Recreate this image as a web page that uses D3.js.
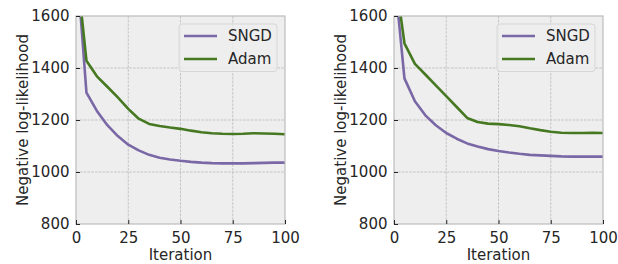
<!DOCTYPE html>
<html><head><meta charset="utf-8">
<script src="https://cdn.jsdelivr.net/npm/d3@7"></script>
<style>
body{margin:0;background:#fff;}
svg{display:block;}
text{font-family:"DejaVu Sans",sans-serif;fill:#262626;}
</style></head>
<body><svg id="c" width="618" height="264"></svg>
<script>
const iterations = [0,5,10,15,20,25,30,35,40,45,50,55,60,65,70,75,80,85,90,95,100];
const leftSNGD = [1840,1305,1235,1180,1138,1105,1083,1066,1055,1048,1043,1039,1036,1034,1033,1033,1033,1034,1035,1036,1036];
const leftAdam = [1810,1428,1368,1328,1287,1243,1205,1185,1177,1171,1166,1159,1153,1149,1147,1146,1147,1149,1148,1147,1145];
const rightSNGD = [1775,1360,1272,1218,1180,1150,1128,1110,1098,1088,1081,1075,1070,1066,1064,1062,1060,1059,1059,1059,1059];
const rightAdam = [1790,1495,1416,1375,1333,1292,1250,1208,1192,1186,1184,1181,1176,1168,1161,1155,1151,1150,1150,1151,1150];
const xTicks = [0,25,50,75,100];
const yTicks = [800,1000,1200,1400,1600];
const seriesNames = ["SNGD","Adam"];
const colors = ["#7A68A6","#467821"];

(function(){
const FS = "15px";
const svg = d3.select("#c");
const panels = [
  {x0:76, x1:285, data:[leftSNGD,leftAdam], ylabX:27.5},
  {x0:394, x1:603, data:[rightSNGD,rightAdam], ylabX:345.5}
];
const pTop=16, pBottom=224;
panels.forEach((p,pi)=>{
  const x = d3.scaleLinear().domain([0,100]).range([p.x0,p.x1]);
  const y = d3.scaleLinear().domain([800,1600]).range([pBottom,pTop]);
  const g = svg.append("g");
  g.append("rect").attr("x",p.x0).attr("y",pTop).attr("width",p.x1-p.x0).attr("height",pBottom-pTop).attr("fill","#eeeeee");
  const clipId="clip"+pi;
  svg.append("clipPath").attr("id",clipId).append("rect").attr("x",p.x0).attr("y",pTop).attr("width",p.x1-p.x0).attr("height",pBottom-pTop);
  g.selectAll(".gx").data(xTicks.slice(1,-1)).join("line")
    .attr("x1",d=>x(d)).attr("x2",d=>x(d)).attr("y1",pTop).attr("y2",pBottom)
    .attr("stroke","#b2b2b2").attr("stroke-width",0.7).attr("stroke-dasharray","2.6,1.2");
  g.selectAll(".gy").data(yTicks.slice(1,-1)).join("line")
    .attr("y1",d=>y(d)).attr("y2",d=>y(d)).attr("x1",p.x0).attr("x2",p.x1)
    .attr("stroke","#b2b2b2").attr("stroke-width",0.7).attr("stroke-dasharray","2.6,1.2");
  const line = d3.line().x((d,i)=>x(iterations[i])).y(d=>y(d));
  p.data.forEach((arr,si)=>{
    g.append("path").datum(arr).attr("d",line).attr("fill","none")
      .attr("stroke",colors[si]).attr("stroke-width",2.6).attr("stroke-linejoin","round")
      .attr("clip-path",`url(#${clipId})`);
  });
  g.append("rect").attr("x",p.x0).attr("y",pTop).attr("width",p.x1-p.x0).attr("height",pBottom-pTop)
    .attr("fill","none").attr("stroke","#bcbcbc").attr("stroke-width",1.2);
  const xa = g.append("g").attr("transform",`translate(0,${pBottom})`)
    .call(d3.axisBottom(x).tickValues(xTicks).tickFormat(d3.format("d")).tickSizeInner(-4).tickSizeOuter(0).tickPadding(8.5));
  const ya = g.append("g").attr("transform",`translate(${p.x0},0)`)
    .call(d3.axisLeft(y).tickValues(yTicks).tickFormat(d3.format("d")).tickSizeInner(-4).tickSizeOuter(0).tickPadding(6.5));
  [xa,ya].forEach(a=>{
    a.select(".domain").remove();
    a.selectAll("line").attr("stroke","#262626").attr("stroke-width",1);
    a.selectAll("text").attr("font-size",FS).attr("font-family","DejaVu Sans").attr("fill","#262626");
  });
  g.append("text").attr("x",(p.x0+p.x1)/2).attr("y",260).attr("text-anchor","middle")
    .attr("font-size",FS).text("Iteration");
  g.append("text").attr("transform",`translate(${p.ylabX},${(pTop+pBottom)/2}) rotate(-90)`)
    .attr("text-anchor","middle").attr("font-size",FS).text("Negative log-likelihood");
  const lx = p.x1-106, ly=24;
  g.append("rect").attr("x",lx).attr("y",ly).attr("width",98).attr("height",47.5).attr("rx",3)
    .attr("fill","#eeeeee").attr("fill-opacity",0.8).attr("stroke","#d6d6d6").attr("stroke-width",1);
  seriesNames.forEach((n,si)=>{
    const yy = ly+12+si*23;
    g.append("line").attr("x1",lx+5).attr("x2",lx+38).attr("y1",yy).attr("y2",yy)
      .attr("stroke",colors[si]).attr("stroke-width",2.6);
    g.append("text").attr("x",lx+49).attr("y",yy).attr("dy","0.36em").attr("font-size",FS).text(n);
  });
});
})();
</script></body></html>
